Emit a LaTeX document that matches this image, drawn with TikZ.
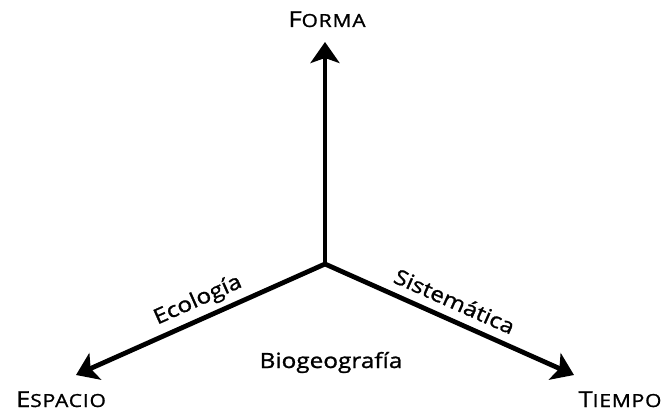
\documentclass[tikz,border=0pt]{standalone}
\usepackage{fontspec}
\setmainfont{Open Sans}[FakeStretch=1.16,FakeBold=1.2]
\newfontfamily\versal{Open Sans}[FakeStretch=1.16,FakeBold=1.2,LetterSpace=5]
\usetikzlibrary{arrows.meta,positioning}

\newcommand{\versalita}[2]{{\versal\fontsize{22}{22}\selectfont #1}{\versal\fontsize{18}{18}\selectfont #2}}

\begin{document}
\begin{tikzpicture}[x=1pt,y=1pt,
    eje/.style={line width=4.8pt,-{Stealth[length=21pt,width=29pt,inset=5pt]}},
    polo/.style={inner sep=0pt,anchor=base},
    rama/.style={font=\fontsize{21}{21}\selectfont,sloped,above=2pt}
  ]
    \useasboundingbox (0,0) rectangle (671,415);

    \coordinate (origen) at (325,151);
    \coordinate (forma) at (325,373);
    \coordinate (espacio) at (76,40);
    \coordinate (tiempo) at (574,40);

    \draw[eje] (origen) -- (forma);
    \draw[eje] (origen) -- node[rama,pos=0.48] (ecologia) {Ecología} (espacio);
    \draw[eje] (origen) -- node[rama,pos=0.49,above=5pt] (sistematica) {Sistemática} (tiempo);

    \node[polo] (lforma) at (327,388) {\versalita{F}{ORMA}};
    \node[polo] (lespacio) at (61,8) {\versalita{E}{SPACIO}};
    \node[polo] (ltiempo) at (620,8) {\versalita{T}{IEMPO}};

    \node[polo,font=\fontsize{21}{21}\selectfont] (biogeo) at (331,47) {Biogeografía};
  \end{tikzpicture}
\end{document}
